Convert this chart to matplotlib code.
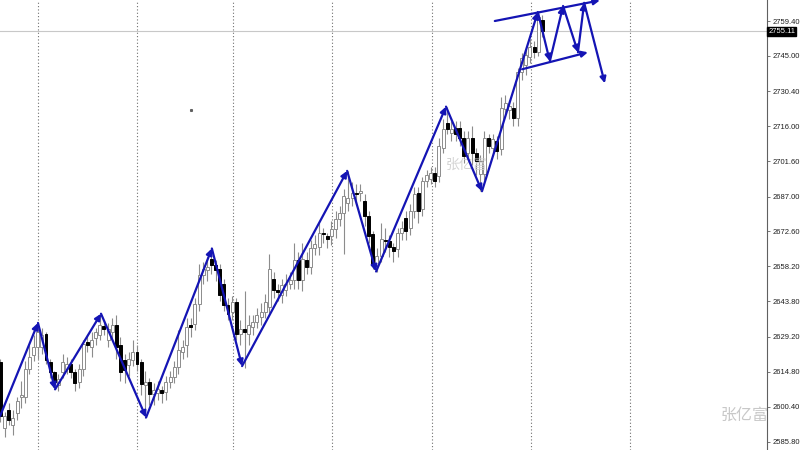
import matplotlib
matplotlib.use("Agg")
import matplotlib.pyplot as plt
from matplotlib.patches import Rectangle
from matplotlib.transforms import blended_transform_factory

# ---------------- data (H1 candles) ----------------
opens = [2618.7, 2591.7, 2598.8, 2593.0, 2597.9, 2604.5, 2604.2, 2615.8, 2621.6, 2624.9,
         2624.9, 2630.3, 2618.7, 2614.5, 2609.2, 2614.5, 2615.8, 2617.9, 2614.5, 2610.4,
         2615.8, 2627.0, 2624.9, 2628.7, 2629.9, 2633.6, 2627.8, 2631.2, 2634.0, 2625.8,
         2619.5, 2617.4, 2619.5, 2622.8, 2618.7, 2609.2, 2610.4, 2605.4, 2605.8, 2607.1,
         2606.3, 2610.4, 2612.5, 2616.6, 2622.8, 2625.8, 2634.0, 2634.5, 2642.8, 2654.8,
         2656.9, 2661.4, 2658.9, 2657.3, 2651.1, 2642.4, 2639.4, 2643.6, 2630.3, 2632.4,
         2630.3, 2633.2, 2635.3, 2637.4, 2639.4, 2641.5, 2653.1, 2648.6, 2646.5, 2648.6,
         2651.1, 2652.7, 2661.0, 2652.7, 2661.0, 2658.1, 2665.6, 2666.4, 2671.8, 2670.6,
         2670.6, 2673.5, 2677.6, 2680.1, 2684.3, 2686.4, 2688.4, 2688.4, 2685.1, 2678.9,
         2671.4, 2658.9, 2662.3, 2669.3, 2668.5, 2666.4, 2665.2, 2671.8, 2678.0, 2673.9,
         2681.0, 2688.4, 2681.8, 2693.4, 2694.2, 2696.7, 2695.5, 2707.1, 2717.5, 2713.3,
         2715.4, 2715.4, 2711.2, 2705.0, 2711.2, 2705.0, 2696.3, 2696.3, 2711.2, 2707.1,
         2710.0, 2706.7, 2723.3, 2722.5, 2723.7, 2719.5, 2738.2, 2741.1, 2744.4, 2748.6,
         2746.5, 2759.8]
highs = [2620.0, 2598.0, 2602.0, 2599.0, 2604.2, 2611.0, 2619.0, 2626.0, 2630.0, 2634.9,
         2633.0, 2631.0, 2620.0, 2615.0, 2614.0, 2622.0, 2621.0, 2620.0, 2616.0, 2618.0,
         2628.0, 2630.0, 2631.0, 2633.0, 2638.7, 2636.0, 2635.0, 2637.0, 2638.0, 2629.0,
         2622.0, 2623.0, 2628.0, 2626.0, 2620.0, 2615.0, 2612.0, 2610.0, 2611.0, 2609.0,
         2613.0, 2615.0, 2619.0, 2632.0, 2628.0, 2637.0, 2637.0, 2645.0, 2659.0, 2660.0,
         2662.0, 2665.6, 2661.0, 2659.0, 2653.0, 2645.0, 2646.0, 2645.0, 2636.0, 2648.0,
         2638.0, 2638.0, 2641.0, 2643.0, 2647.0, 2663.5, 2656.0, 2651.0, 2653.0, 2655.0,
         2656.0, 2668.0, 2664.0, 2668.0, 2664.0, 2669.0, 2671.0, 2676.0, 2674.0, 2672.0,
         2677.0, 2681.0, 2683.0, 2690.0, 2697.6, 2693.0, 2692.0, 2692.0, 2688.0, 2681.0,
         2673.0, 2666.0, 2676.0, 2674.0, 2671.0, 2668.0, 2674.0, 2677.0, 2681.0, 2684.0,
         2691.0, 2691.0, 2695.0, 2698.0, 2699.0, 2699.0, 2711.0, 2719.0, 2724.1, 2718.0,
         2718.0, 2718.0, 2714.0, 2714.0, 2716.0, 2707.0, 2704.0, 2714.0, 2713.0, 2713.0,
         2712.0, 2728.0, 2729.0, 2727.0, 2726.0, 2740.0, 2746.0, 2748.0, 2752.0, 2751.0,
         2763.1, 2762.0]
lows = [2594.0, 2588.0, 2593.0, 2588.8, 2595.0, 2600.0, 2602.0, 2614.0, 2619.0, 2620.0,
        2622.0, 2618.0, 2612.0, 2607.5, 2607.0, 2612.0, 2614.0, 2612.0, 2607.0, 2608.0,
        2613.0, 2623.0, 2621.0, 2626.0, 2628.0, 2630.0, 2625.0, 2628.0, 2620.0, 2611.0,
        2610.0, 2613.0, 2617.0, 2615.0, 2605.0, 2595.9, 2601.0, 2601.0, 2603.0, 2602.0,
        2603.0, 2608.0, 2610.0, 2614.0, 2620.0, 2621.0, 2629.0, 2632.0, 2640.0, 2651.0,
        2652.0, 2655.0, 2652.0, 2644.0, 2640.0, 2636.0, 2636.0, 2628.0, 2626.0, 2616.5,
        2626.0, 2630.0, 2633.0, 2634.0, 2637.0, 2639.0, 2645.0, 2644.0, 2643.0, 2646.0,
        2649.0, 2649.0, 2649.0, 2648.0, 2655.0, 2655.0, 2663.0, 2663.0, 2668.0, 2666.0,
        2667.0, 2670.0, 2675.0, 2663.5, 2681.0, 2683.0, 2684.0, 2685.0, 2675.0, 2668.0,
        2657.0, 2656.1, 2660.0, 2664.0, 2662.0, 2660.0, 2662.0, 2669.0, 2669.0, 2671.0,
        2678.0, 2676.0, 2679.0, 2691.0, 2692.0, 2691.0, 2693.0, 2705.0, 2713.0, 2710.0,
        2710.0, 2708.0, 2701.0, 2702.0, 2700.0, 2696.0, 2689.2, 2694.0, 2705.0, 2704.0,
        2702.5, 2704.0, 2721.0, 2719.0, 2716.0, 2716.0, 2735.0, 2737.0, 2742.0, 2744.0,
        2745.0, 2753.0]
closes = [2596.7, 2596.7, 2595.0, 2595.9, 2602.9, 2605.0, 2615.8, 2620.8, 2624.9, 2631.2,
          2629.9, 2619.5, 2614.5, 2610.4, 2611.6, 2618.7, 2617.9, 2614.5, 2610.0, 2615.8,
          2626.2, 2625.8, 2627.8, 2631.2, 2634.0, 2632.4, 2632.4, 2634.0, 2624.9, 2614.5,
          2615.4, 2619.9, 2622.8, 2617.9, 2609.6, 2610.4, 2605.4, 2607.1, 2607.5, 2605.8,
          2610.4, 2612.5, 2616.6, 2623.7, 2624.9, 2633.2, 2633.2, 2642.8, 2654.8, 2657.3,
          2658.1, 2658.9, 2656.9, 2646.5, 2642.4, 2638.6, 2643.6, 2630.3, 2632.4, 2631.2,
          2634.0, 2635.3, 2638.2, 2639.4, 2643.6, 2657.3, 2648.6, 2647.8, 2650.7, 2651.1,
          2652.7, 2661.0, 2652.7, 2661.4, 2658.1, 2665.6, 2667.3, 2671.8, 2671.4, 2669.7,
          2673.5, 2677.6, 2680.1, 2687.2, 2686.4, 2688.4, 2688.0, 2689.2, 2678.9, 2670.6,
          2658.9, 2662.3, 2669.7, 2668.5, 2666.4, 2664.4, 2671.8, 2673.9, 2672.6, 2681.0,
          2688.0, 2681.0, 2693.4, 2695.9, 2696.7, 2693.4, 2707.9, 2715.0, 2715.0, 2715.0,
          2712.9, 2711.2, 2703.8, 2711.2, 2705.0, 2701.7, 2701.7, 2711.2, 2707.9, 2710.8,
          2705.9, 2723.7, 2725.4, 2724.5, 2719.5, 2738.2, 2744.0, 2745.3, 2748.6, 2746.5,
          2761.0, 2755.11]

# zigzag pivots (bar index, price)
zigzag_x = [-0.1, 9.06, 13.2, 24.3, 35.2, 51.1, 58.4, 83.8, 90.8, 107.7, 116.4,
            129.9, 132.8, 136.0, 139.6, 141.1, 146.1]
zigzag_y = [2596.5, 2634.9, 2607.5, 2638.7, 2595.9, 2665.6, 2617.1, 2697.6, 2656.1,
            2724.1, 2689.2, 2763.1, 2742.8, 2765.6, 2746.5, 2766.9, 2733.7]
# channel lines
upper_x = [119.5, 144.9]
upper_y = [2759.4, 2767.9]
lower_x = [126.1, 142.0]
lower_y = [2739.5, 2746.5]

day_separators = [9.06, 33.0, 56.2, 80.1, 104.3, 128.2, 152.2]
yticks = [2585.80, 2600.40, 2614.80, 2629.20, 2643.80, 2658.20, 2672.60,
          2687.00, 2701.60, 2716.00, 2730.40, 2745.00, 2759.40]
current_price = 2755.11

# ---------------- figure ----------------
fig = plt.figure(figsize=(8, 4.5), dpi=100)
ax = fig.add_axes([0, 0, 767 / 800, 1])
ax.set_xlim(-0.12, 185.3)
ax.set_ylim(2582.5, 2768.06)

blue = "#1414B4"
gray = "#8C8C8C"

for xs in day_separators:
    ax.axvline(xs, color="#707070", lw=0.8, ls=(0, (1, 2)), zorder=1)

ax.axhline(current_price, color="#C8C8C8", lw=0.8, zorder=1)

bw = 0.72
for i, (o, h, l, c) in enumerate(zip(opens, highs, lows, closes)):
    ax.plot([i, i], [l, h], color=gray, lw=0.8, zorder=2, solid_capstyle="butt")
    bottom = min(o, c)
    height = max(abs(c - o), 0.25)
    if c >= o:
        rect = Rectangle((i - bw / 2, bottom), bw, height, facecolor="white",
                         edgecolor=gray, lw=0.7, zorder=3)
    else:
        rect = Rectangle((i - bw / 2, bottom), bw, height, facecolor="black",
                         edgecolor="black", lw=0.7, zorder=3)
    ax.add_patch(rect)


def arrow(x0, y0, x1, y1):
    ax.annotate("", xy=(x1, y1), xytext=(x0, y0),
                arrowprops=dict(arrowstyle="-|>,head_length=0.45,head_width=0.22",
                                color=blue, lw=1.6, shrinkA=0, shrinkB=0,
                                mutation_scale=8),
                zorder=5, annotation_clip=False)


for k in range(len(zigzag_x) - 1):
    arrow(zigzag_x[k], zigzag_y[k], zigzag_x[k + 1], zigzag_y[k + 1])
arrow(upper_x[0], upper_y[0], upper_x[1], upper_y[1])
arrow(lower_x[0], lower_y[0], lower_x[1], lower_y[1])

# small dot object
ax.plot([46.0], [2722.6], marker="s", ms=1.2, color="#606060", zorder=4)

# watermarks
cjk = ["Noto Sans CJK SC", "DejaVu Sans"]
ax.text(112.7, 2700.0, "张亿富", family=cjk, fontsize=10, color="#CFCFCF",
        ha="center", va="center", zorder=4, alpha=0.9)
ax.text(180.0, 2597.0, "张亿富", family=cjk, fontsize=11.5, color="#C8C8C8",
        ha="center", va="center", zorder=1)

# axis styling
for s in ["top", "left", "bottom"]:
    ax.spines[s].set_visible(False)
ax.spines["right"].set_color("#606060")
ax.spines["right"].set_linewidth(0.8)
ax.set_xticks([])
ax.yaxis.tick_right()
ax.set_yticks(yticks)
ax.set_yticklabels([f"{v:.2f}" for v in yticks], family="Liberation Sans")
ax.tick_params(axis="y", direction="out", length=2.5, width=0.6, color="#606060",
               labelsize=5.5, labelcolor="#202020", pad=1.2)

trans = blended_transform_factory(ax.transAxes, ax.transData)
ax.text(1.0015, current_price, "2755.11", transform=trans, fontsize=5.5,
        family="Liberation Sans", color="white", ha="left", va="center",
        clip_on=False,
        bbox=dict(boxstyle="square,pad=0.15", facecolor="black", edgecolor="black"))

fig.savefig("out.png", dpi=100)
